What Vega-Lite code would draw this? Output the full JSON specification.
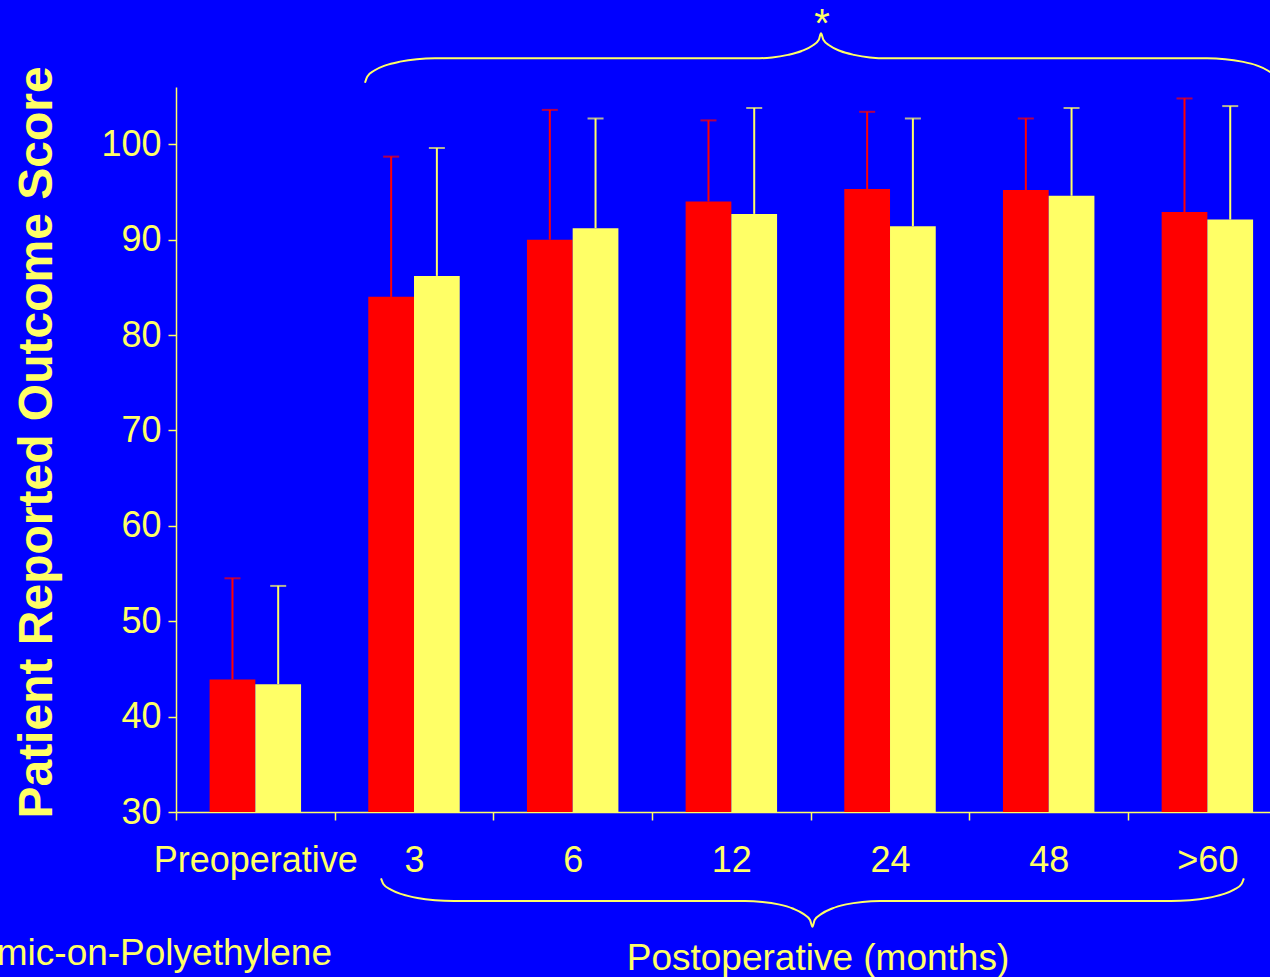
{
  "$schema": "https://vega.github.io/schema/vega-lite/v6.json",
  "width": 1094,
  "height": 725,
  "autosize": {"type": "none"},
  "padding": {"left": 176, "top": 87, "right": 0, "bottom": 165},
  "background": "#0000FF",
  "config": {
    "view": {"stroke": null},
    "font": "Liberation Sans",
    "axisY": {
      "grid": false, "domainColor": "#FFFF66", "domainWidth": 1.5, "tickColor": "#FFFF66", "tickSize": 8, "tickWidth": 1.5,
      "labelColor": "#FFFF66", "labelFont": "Liberation Sans", "labelFontSize": 36, "labelPadding": 7,
      "titleFont": "Liberation Sans", "titleFontSize": 48, "titleFontWeight": "bold", "titleColor": "#FFFF66",
      "titleAngle": -90, "titleX": -125, "titleY": 355, "titleAlign": "center", "titleBaseline": "alphabetic"
    }
  },
  "datasets": {
    "scores": [
      {"time": "Preoperative", "series": "Ceramic-on-Polyethylene", "mean": 43.9, "upper": 54.5},
      {"time": "Preoperative", "series": "Comparison", "mean": 43.4, "upper": 53.7},
      {"time": "3", "series": "Ceramic-on-Polyethylene", "mean": 84.0, "upper": 98.7},
      {"time": "3", "series": "Comparison", "mean": 86.2, "upper": 99.6},
      {"time": "6", "series": "Ceramic-on-Polyethylene", "mean": 90.0, "upper": 103.6},
      {"time": "6", "series": "Comparison", "mean": 91.2, "upper": 102.7},
      {"time": "12", "series": "Ceramic-on-Polyethylene", "mean": 94.0, "upper": 102.5},
      {"time": "12", "series": "Comparison", "mean": 92.7, "upper": 103.8},
      {"time": "24", "series": "Ceramic-on-Polyethylene", "mean": 95.3, "upper": 103.4},
      {"time": "24", "series": "Comparison", "mean": 91.4, "upper": 102.7},
      {"time": "48", "series": "Ceramic-on-Polyethylene", "mean": 95.2, "upper": 102.7},
      {"time": "48", "series": "Comparison", "mean": 94.6, "upper": 103.8},
      {"time": ">60", "series": "Ceramic-on-Polyethylene", "mean": 92.9, "upper": 104.8},
      {"time": ">60", "series": "Comparison", "mean": 92.1, "upper": 104.0}
    ],
    "braceTop": [
      {"bx": 1.191, "by": 106.45}, {"bx": 1.206, "by": 107.11}, {"bx": 1.250, "by": 107.73},
      {"bx": 1.320, "by": 108.27}, {"bx": 1.412, "by": 108.66}, {"bx": 1.518, "by": 108.92},
      {"bx": 1.632, "by": 109.01}, {"bx": 3.649, "by": 109.01}, {"bx": 3.757, "by": 109.10},
      {"bx": 3.857, "by": 109.37}, {"bx": 3.943, "by": 109.77}, {"bx": 4.010, "by": 110.32},
      {"bx": 4.051, "by": 110.95}, {"bx": 4.065, "by": 111.63}, {"bx": 4.080, "by": 110.95},
      {"bx": 4.121, "by": 110.32}, {"bx": 4.187, "by": 109.77}, {"bx": 4.273, "by": 109.37},
      {"bx": 4.373, "by": 109.10}, {"bx": 4.481, "by": 109.01}, {"bx": 6.498, "by": 109.01},
      {"bx": 6.612, "by": 108.92}, {"bx": 6.718, "by": 108.66}, {"bx": 6.810, "by": 108.27},
      {"bx": 6.880, "by": 107.73}, {"bx": 6.924, "by": 107.11}, {"bx": 6.939, "by": 106.45}
    ],
    "braceBottom": [
      {"bx": 1.292, "by": 23.05}, {"bx": 1.308, "by": 22.43}, {"bx": 1.354, "by": 21.855},
      {"bx": 1.427, "by": 21.36}, {"bx": 1.522, "by": 20.985}, {"bx": 1.633, "by": 20.754},
      {"bx": 1.752, "by": 20.67}, {"bx": 3.586, "by": 20.67}, {"bx": 3.696, "by": 20.576},
      {"bx": 3.798, "by": 20.314}, {"bx": 3.887, "by": 19.884}, {"bx": 3.954, "by": 19.318},
      {"bx": 3.996, "by": 18.679}, {"bx": 4.011, "by": 17.976}, {"bx": 4.025, "by": 18.679},
      {"bx": 4.068, "by": 19.318}, {"bx": 4.135, "by": 19.884}, {"bx": 4.223, "by": 20.314},
      {"bx": 4.326, "by": 20.576}, {"bx": 4.436, "by": 20.67}, {"bx": 6.270, "by": 20.67},
      {"bx": 6.389, "by": 20.754}, {"bx": 6.500, "by": 20.985}, {"bx": 6.595, "by": 21.36},
      {"bx": 6.668, "by": 21.855}, {"bx": 6.714, "by": 22.43}, {"bx": 6.730, "by": 23.05}
    ],
    "notes": [
      {"label": "*", "bx": 4.071, "by": 111.24},
      {"label": "Postoperative (months)", "bx": 4.046, "by": 13.44},
      {"label": "Ceramic-on-Polyethylene", "bx": 0.983, "by": 13.96}
    ]
  },
  "layer": [
    {
      "data": {"name": "scores"},
      "encoding": {
        "x": {
          "field": "time", "type": "nominal",
          "sort": ["Preoperative", "3", "6", "12", "24", "48", ">60"],
          "scale": {"domain": ["Preoperative", "3", "6", "12", "24", "48", ">60"], "range": [0, 1110.7], "paddingInner": 0, "paddingOuter": 0},
          "axis": {
            "title": null, "tickBand": "extent", "labelAngle": 0, "labelBaseline": "alphabetic",
            "labelPadding": 51, "labelFont": "Liberation Sans", "labelFontSize": 36, "labelColor": "#FFFF66",
            "tickColor": "#FFFF66", "tickSize": 8, "tickWidth": 1.5, "domainColor": "#FFFF66", "domainWidth": 1.5,
            "labelOverlap": false, "labelFlush": false, "labelLimit": 0, "grid": false
          }
        },
        "xOffset": {
          "field": "series", "type": "nominal", "sort": ["Ceramic-on-Polyethylene", "Comparison"],
          "scale": {"paddingInner": 0, "paddingOuter": 0.735}
        },
        "color": {
          "field": "series", "type": "nominal", "sort": ["Ceramic-on-Polyethylene", "Comparison"],
          "scale": {"domain": ["Ceramic-on-Polyethylene", "Comparison"], "range": ["#FF0000", "#FFFF66"]},
          "legend": null
        }
      },
      "layer": [
        {
          "mark": {"type": "bar"},
          "encoding": {
            "y": {
              "field": "mean", "type": "quantitative", "title": "Patient Reported Outcome Score",
              "scale": {"domain": [30, 106], "nice": false, "zero": false},
              "axis": {"values": [30, 40, 50, 60, 70, 80, 90, 100]}
            },
            "y2": {"datum": 30}
          }
        },
        {
          "mark": {"type": "rule", "strokeWidth": 2},
          "encoding": {
            "y": {"field": "mean", "type": "quantitative", "title": "Patient Reported Outcome Score", "scale": {"domain": [30, 106], "nice": false, "zero": false}},
            "y2": {"field": "upper"}
          }
        },
        {
          "mark": {"type": "tick", "orient": "horizontal", "size": 16, "thickness": 2},
          "encoding": {
            "y": {"field": "upper", "type": "quantitative", "title": "Patient Reported Outcome Score", "scale": {"domain": [30, 106], "nice": false, "zero": false}}
          }
        }
      ]
    },
    {
      "data": {"name": "braceTop"},
      "mark": {"type": "line", "color": "#FFFF66", "strokeWidth": 2, "interpolate": "monotone"},
      "encoding": {
        "x": {"field": "bx", "type": "quantitative", "scale": {"domain": [0, 7], "range": [0, 1110.7], "nice": false, "zero": false}, "axis": null},
        "y": {"field": "by", "type": "quantitative", "title": "Patient Reported Outcome Score", "scale": {"domain": [30, 106], "nice": false, "zero": false}}
      }
    },
    {
      "data": {"name": "braceBottom"},
      "mark": {"type": "line", "color": "#FFFF66", "strokeWidth": 2, "interpolate": "monotone"},
      "encoding": {
        "x": {"field": "bx", "type": "quantitative", "scale": {"domain": [0, 7], "range": [0, 1110.7], "nice": false, "zero": false}, "axis": null},
        "y": {"field": "by", "type": "quantitative", "title": "Patient Reported Outcome Score", "scale": {"domain": [30, 106], "nice": false, "zero": false}}
      }
    },
    {
      "data": {"name": "notes"},
      "transform": [{"filter": "datum.label === '*'"}],
      "mark": {"type": "text", "color": "#FFFF66", "font": "Liberation Sans", "fontSize": 40, "align": "center", "baseline": "alphabetic"},
      "encoding": {
        "x": {"field": "bx", "type": "quantitative", "scale": {"domain": [0, 7], "range": [0, 1110.7], "nice": false, "zero": false}, "axis": null},
        "y": {"field": "by", "type": "quantitative", "title": "Patient Reported Outcome Score", "scale": {"domain": [30, 106], "nice": false, "zero": false}},
        "text": {"field": "label"}
      }
    },
    {
      "data": {"name": "notes"},
      "transform": [{"filter": "datum.label === 'Postoperative (months)'"}],
      "mark": {"type": "text", "color": "#FFFF66", "font": "Liberation Sans", "fontSize": 37, "align": "center", "baseline": "alphabetic"},
      "encoding": {
        "x": {"field": "bx", "type": "quantitative", "scale": {"domain": [0, 7], "range": [0, 1110.7], "nice": false, "zero": false}, "axis": null},
        "y": {"field": "by", "type": "quantitative", "title": "Patient Reported Outcome Score", "scale": {"domain": [30, 106], "nice": false, "zero": false}},
        "text": {"field": "label"}
      }
    },
    {
      "data": {"name": "notes"},
      "transform": [{"filter": "datum.label === 'Ceramic-on-Polyethylene'"}],
      "mark": {"type": "text", "color": "#FFFF66", "font": "Liberation Sans", "fontSize": 37, "align": "right", "baseline": "alphabetic"},
      "encoding": {
        "x": {"field": "bx", "type": "quantitative", "scale": {"domain": [0, 7], "range": [0, 1110.7], "nice": false, "zero": false}, "axis": null},
        "y": {"field": "by", "type": "quantitative", "title": "Patient Reported Outcome Score", "scale": {"domain": [30, 106], "nice": false, "zero": false}},
        "text": {"field": "label"}
      }
    }
  ],
  "resolve": {"scale": {"x": "independent"}}
}
